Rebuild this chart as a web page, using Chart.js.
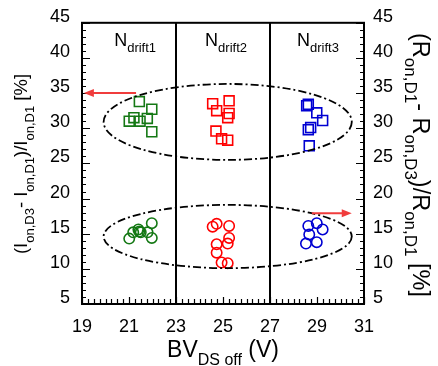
<!DOCTYPE html>
<html>
<head>
<meta charset="utf-8">
<script src="https://cdn.jsdelivr.net/npm/chart.js@4.4.1/dist/chart.umd.min.js"></script>
<style>
  html, body { margin: 0; padding: 0; background: #fff; }
  #wrap { width: 438px; height: 366px; }
</style>
</head>
<body>
<div id="wrap"><canvas id="c" width="438" height="366"></canvas></div>
<script>
// x ticks and y ticks
const xTicks = [19, 21, 23, 25, 27, 29, 31];
const yTicks = [5, 10, 15, 20, 25, 30, 35, 40, 45];

// Ion change (squares, left axis)
const d1SqX = [21.44, 21.97, 21.21, 21.01, 21.47, 21.78, 21.97];
const d1SqY = [33.8, 32.7, 31.5, 31.0, 31.0, 31.4, 29.5];
const d2SqX = [24.56, 24.73, 25.26, 25.26, 25.2, 24.7, 24.94, 25.2];
const d2SqY = [33.5, 32.5, 33.9, 32.1, 31.5, 29.6, 28.5, 28.3];
const d3SqX = [28.56, 28.63, 28.99, 29.24, 28.63, 28.73, 28.67];
const d3SqY = [33.2, 33.4, 32.2, 31.1, 29.8, 30.1, 27.5];

// Ron change (circles, right axis)
const d1CiX = [21.01, 21.18, 21.4, 21.44, 21.5, 21.79, 21.97, 21.97];
const d1CiY = [14.3, 15.2, 15.6, 15.3, 15.2, 15.2, 16.5, 14.4];
const d2CiX = [24.56, 24.73, 25.26, 25.26, 25.2, 24.73, 24.73, 24.94, 25.2];
const d2CiY = [16.0, 16.4, 16.1, 14.4, 13.6, 13.5, 12.3, 10.9, 10.8];
const d3CiX = [28.63, 28.99, 29.24, 28.67, 28.53, 28.99];
const d3CiY = [16.1, 16.5, 15.6, 14.9, 13.6, 13.8];

const groupLabels = ['drift1', 'drift2', 'drift3'];
const groupLabelX = [21.26, 25.13, 29.04];

const GREEN = 'rgb(20,120,20)', RED = 'rgb(255,0,0)', BLUE = 'rgb(0,0,210)';
const FONT = '"Liberation Sans", Arial, sans-serif';

function pts(xs, ys) { return xs.map((x, i) => ({ x: x, y: ys[i] })); }

function ds(xs, ys, color, style, axis) {
  return {
    data: pts(xs, ys), yAxisID: axis, showLine: false,
    pointStyle: style, pointRadius: style === 'rect' ? 7 : 5.2,
    borderColor: color, backgroundColor: 'rgba(0,0,0,0)',
    pointBorderWidth: 1.6, pointHoverRadius: style === 'rect' ? 7 : 5.2
  };
}

// text with subscripts, parts = [[text, isSub], ...]
function richText(ctx, parts, x, y, size, subSize, rot) {
  ctx.save();
  ctx.translate(x, y);
  ctx.rotate(rot || 0);
  let w = 0;
  parts.forEach(p => { ctx.font = (p[1] ? subSize : size) + 'px ' + FONT; w += ctx.measureText(p[0]).width; });
  let cx = -w / 2;
  ctx.textBaseline = 'alphabetic';
  ctx.textAlign = 'left';
  ctx.fillStyle = '#000';
  parts.forEach(p => {
    ctx.font = (p[1] ? subSize : size) + 'px ' + FONT;
    ctx.fillText(p[0], cx, p[1] ? size * 0.3 + 1 : 0);
    cx += ctx.measureText(p[0]).width;
  });
  ctx.restore();
}

function arrow(ctx, x1, y, x2, color) {
  const dir = x2 > x1 ? 1 : -1;
  ctx.save();
  ctx.strokeStyle = color; ctx.fillStyle = color; ctx.lineWidth = 2;
  ctx.beginPath(); ctx.moveTo(x1, y); ctx.lineTo(x2 - dir * 8, y); ctx.stroke();
  ctx.beginPath(); ctx.moveTo(x2, y); ctx.lineTo(x2 - dir * 10, y - 4); ctx.lineTo(x2 - dir * 10, y + 4); ctx.closePath(); ctx.fill();
  ctx.restore();
}

const decor = {
  id: 'decor',
  afterDatasetsDraw(chart) {
    const ctx = chart.ctx, xs = chart.scales.x, ys = chart.scales.y;
    const a = chart.chartArea;
    ctx.save();
    ctx.strokeStyle = '#000';

    // inward ticks
    ctx.lineWidth = 1.2;
    ctx.beginPath();
    for (let v = 5; v <= 45; v += 1) {
      const py = Math.round(ys.getPixelForValue(v)) + 0.5;
      const len = v % 5 === 0 ? 8 : 4;
      ctx.moveTo(a.left, py); ctx.lineTo(a.left + len, py);
      ctx.moveTo(a.right, py); ctx.lineTo(a.right - len, py);
    }
    for (let v = 19; v <= 31.001; v += 0.25) {
      const px = Math.round(xs.getPixelForValue(v)) + 0.5;
      const len = Math.abs(v - Math.round(v)) < 0.01 && Math.round(v) % 2 === 1 ? 7 : 5;
      ctx.moveTo(px, a.bottom); ctx.lineTo(px, a.bottom - len);
    }
    ctx.stroke();

    // frame and group separators
    ctx.lineWidth = 2;
    ctx.strokeRect(a.left, a.top, a.right - a.left, a.bottom - a.top);
    [23, 27].forEach(v => {
      const px = xs.getPixelForValue(v);
      ctx.beginPath(); ctx.moveTo(px, a.top); ctx.lineTo(px, a.bottom); ctx.stroke();
    });

    // dash-dot ellipses
    ctx.setLineDash([8, 3, 2, 3]);
    ctx.lineWidth = 1.8;
    const ex = xs.getPixelForValue(25.2), erx = xs.getPixelForValue(30.48) - ex;
    [[30.9, 5.4], [14.6, 4.5]].forEach(e => {
      const cy = ys.getPixelForValue(e[0]);
      const ry = ys.getPixelForValue(e[0] - e[1]) - cy;
      ctx.beginPath(); ctx.ellipse(ex, cy, erx, ry, 0, 0, Math.PI * 2); ctx.stroke();
    });
    ctx.setLineDash([]);

    // arrows pointing to the matching axis
    arrow(ctx, xs.getPixelForValue(21.3), ys.getPixelForValue(35), xs.getPixelForValue(19.08), 'rgb(240,60,60)');
    arrow(ctx, xs.getPixelForValue(28.78), ys.getPixelForValue(17.9), xs.getPixelForValue(30.48), 'rgb(240,60,60)');

    // group labels
    groupLabels.forEach((g, i) => {
      richText(ctx, [['N', false], [g, true]], xs.getPixelForValue(groupLabelX[i]), a.top + 23, 18, 13, 0);
    });

    // axis titles
    richText(ctx, [['BV', false], ['DS off', true], [' (V)', false]], xs.getPixelForValue(25), 357, 23, 16, 0);
    richText(ctx, [['(I', false], ['on,D3', true], ['- I', false], ['on,D1', true], [')/I', false], ['on,D1', true], [' [%]', false]],
      27, 164, 18.5, 13, -Math.PI / 2);
    richText(ctx, [['(R', false], ['on,D1', true], ['- R', false], ['on,D3', true], [')/R', false], ['on,D1', true], [' [%]', false]],
      413, 165, 23.5, 17, Math.PI / 2);
    ctx.restore();
  }
};

const tickFont = { family: FONT, size: 18 };

new Chart(document.getElementById('c'), {
  type: 'scatter',
  data: {
    datasets: [
      ds(d1SqX, d1SqY, GREEN, 'rect', 'y'),
      ds(d2SqX, d2SqY, RED, 'rect', 'y'),
      ds(d3SqX, d3SqY, BLUE, 'rect', 'y'),
      ds(d1CiX, d1CiY, GREEN, 'circle', 'y1'),
      ds(d2CiX, d2CiY, RED, 'circle', 'y1'),
      ds(d3CiX, d3CiY, BLUE, 'circle', 'y1')
    ]
  },
  options: {
    responsive: false,
    animation: false,
    layout: { padding: { top: 22, left: 0, right: 0, bottom: 0 } },
    plugins: { legend: { display: false }, tooltip: { enabled: false } },
    scales: {
      x: {
        type: 'linear', min: 19, max: 31,
        afterBuildTicks: s => { s.ticks = xTicks.map(v => ({ value: v })); },
        afterFit: s => { s.height = 62; },
        grid: { display: false, drawTicks: false },
        border: { display: false },
        ticks: { font: tickFont, color: '#000', padding: 12, maxRotation: 0 }
      },
      y: {
        type: 'linear', position: 'left', min: 5, max: 45,
        afterBuildTicks: s => { s.ticks = yTicks.map(v => ({ value: v })); },
        afterFit: s => { s.width = 82; },
        grid: { display: false, drawTicks: false },
        border: { display: false },
        ticks: { font: tickFont, color: '#000', padding: 12, labelOffset: -6 }
      },
      y1: {
        type: 'linear', position: 'right', min: 5, max: 45,
        afterBuildTicks: s => { s.ticks = yTicks.map(v => ({ value: v })); },
        afterFit: s => { s.width = 74; },
        grid: { display: false, drawTicks: false },
        border: { display: false },
        ticks: { font: tickFont, color: '#000', padding: 9, labelOffset: -6 }
      }
    }
  },
  plugins: [decor]
});
</script>
</body>
</html>
